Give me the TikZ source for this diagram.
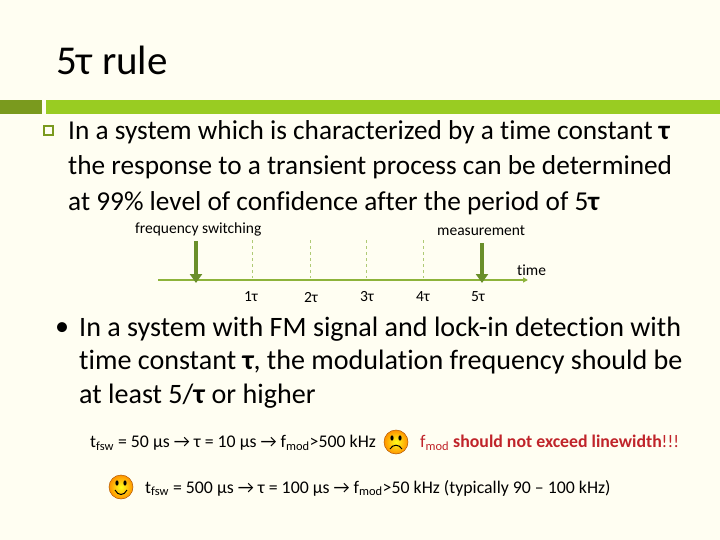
\documentclass[tikz,border=0pt]{standalone}
\usepackage{fontspec}
\setmainfont{Carlito}[Ligatures=NoCommon]
\usetikzlibrary{arrows.meta}
\definecolor{bgcream}{HTML}{FFFEF2}
\definecolor{darkgreen}{HTML}{7A9A1E}
\definecolor{lightgreen}{HTML}{99CC22}
\definecolor{axisgreen}{HTML}{8DB33A}
\definecolor{arrowgreen}{HTML}{6A8F2A}
\definecolor{warnred}{HTML}{C0242A}
\tikzset{
  body/.style={anchor=west, font=\fontsize{27.3}{30}\selectfont, inner sep=0pt},
  bodytwo/.style={anchor=west, font=\fontsize{28.1}{31}\selectfont, inner sep=0pt},
  small/.style={font=\fontsize{15.5}{18}\selectfont, inner sep=0pt},
  note/.style={anchor=west, font=\fontsize{17.8}{20}\selectfont, inner sep=0pt},
  tickline/.style={axisgreen!70, dashed, line width=0.8pt},
  bigarrow/.style={arrowgreen, line width=3.5pt, -{Triangle[length=9pt,width=12pt]}},
  face/.style={draw=orange!70!black, line width=0.5pt, inner color=yellow!90!white, outer color=orange!85!yellow}
}
\newcommand{\smiley}[3]{%
  \shade[face] (#1) circle (12);
  \fill (#1) ++(-4,-4) ellipse (1.6 and 2.6);
  \fill (#1) ++(4,-4) ellipse (1.6 and 2.6);
  \draw[line width=1pt] (#1) ++(-6,#3) .. controls +(3,#2) and +(-3,#2) .. ++(12,0);
}
\begin{document}
\begin{tikzpicture}[x=1pt,y=-1pt]
  \useasboundingbox[fill=bgcream] (0,0) rectangle (720,540);
  % Titel
  \node[anchor=west, font=\fontsize{41}{46}\selectfont, inner sep=0pt] (title) at (56,60) {5τ rule};
  % Balken
  \fill[darkgreen] (0,100) rectangle (42,114);
  \fill[lightgreen] (46,100) rectangle (720,114);
  % erster Punkt
  \draw[darkgreen, line width=1.2pt] (44,126) rectangle (53,135);
  \node[body] (l1) at (68,132) {In a system which is characterized by a time constant \textbf{τ}};
  \node[body] (l2) at (68,167) {the response to a transient process can be determined};
  \node[body] (l3) at (68,203) {at 99\% level of confidence after the period of 5\textbf{τ}};
  % Zeitachse
  \coordinate (t0) at (158,280);
  \coordinate (t1) at (528,280);
  \draw[axisgreen, line width=1.5pt, -{Triangle[length=5pt,width=5pt]}] (t0) -- (t1);
  \foreach \x in {252,310,366,423} {
    \draw[tickline] (\x,240) -- (\x,278);
  }
  \foreach \x/\lab in {251/1,311/2,367/3,423/4,478/5} {
    \node[small] (tau\lab) at (\x,297) {\lab τ};
  }
  \node[small, anchor=west] (fsw) at (135,229) {frequency switching};
  \node[small, anchor=west] (meas) at (437,231) {measurement};
  \node[small, anchor=west] (time) at (517,270) {time};
  \coordinate (fswtip) at (196,283);
  \coordinate (meastip) at (482,283);
  \draw[bigarrow] (196,241) -- (fswtip);
  \draw[bigarrow] (482,243) -- (meastip);
  % zweiter Punkt
  \node[bodytwo, anchor=center] (dot) at (62,329) {•};
  \node[bodytwo] (m1) at (79,329) {In a system with FM signal and lock-in detection with};
  \node[bodytwo] (m2) at (79,362) {time constant \textbf{τ}, the modulation frequency should be};
  \node[bodytwo] (m3) at (79,396) {at least 5/\textbf{τ} or higher};
  % Beispiele
  \node[note] (ex1) at (90,443) {t\textsubscript{fsw} = 50 µs → τ = 10 µs → f\textsubscript{mod}>500 kHz};
  \coordinate (sad) at (396,442);
  \smiley{sad}{-5}{7}
  \node[note, text=warnred] (warn) at (420,443) {f\textsubscript{mod} \textbf{should not exceed linewidth}!!!};
  \coordinate (happy) at (121,487);
  \smiley{happy}{6}{3}
  \node[note] (ex2) at (145,488) {t\textsubscript{fsw} = 500 µs → τ = 100 µs → f\textsubscript{mod}>50 kHz (typically 90 – 100 kHz)};
\end{tikzpicture}
\end{document}
